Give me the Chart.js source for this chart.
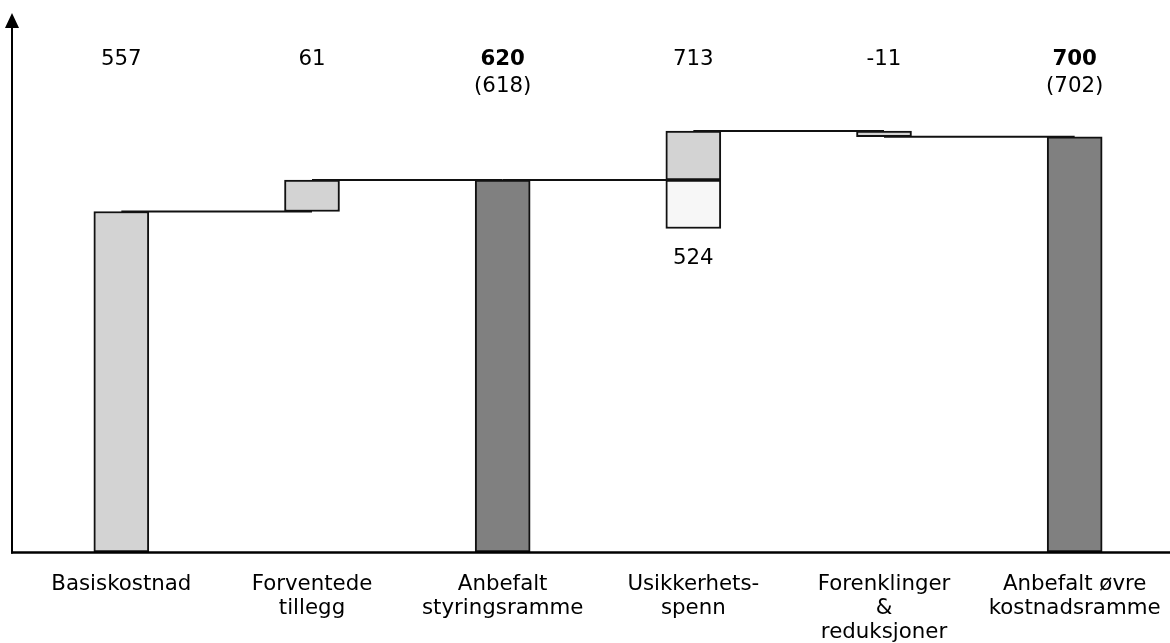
<!DOCTYPE html>
<html>
<head>
<meta charset="utf-8">
<script src="https://cdn.jsdelivr.net/npm/chart.js@4.4.1/dist/chart.umd.min.js"></script>
<style>
  html, body { margin: 0; padding: 0; background: #ffffff; }
  #wrap { width: 1170px; height: 643px; position: relative; }
</style>
</head>
<body>
<div id="wrap"><canvas id="chart"></canvas></div>
<script>
// Categories along the x axis (multi-line labels)
const categories = [
  ['Basiskostnad'],
  ['Forventede', 'tillegg'],
  ['Anbefalt', 'styringsramme'],
  ['Usikkerhets-', 'spenn'],
  ['Forenklinger', '&', 'reduksjoner'],
  ['Anbefalt øvre', 'kostnadsramme']
];

// Value labels printed above each column
const valueLabels = ['557', '61', '620', '713', '-11', '700'];
const subLabels = ['', '', '(618)', '', '', '(702)'];
const boldLabels = [false, false, true, false, false, true];

// Cost figures (MNOK)
const baseCost = 557;
const expectedAdditions = 61;
const controlFrame = 618;
const uncertaintyHigh = 713;
const uncertaintyLow = 524;
const simplifications = -11;
const upperFrame = 702;

// Visible value range of the cost axis
const yRange = [-103, 967];

// Running level after each column, used for the step connectors
const connectorLevels = [baseCost, controlFrame, controlFrame, uncertaintyHigh, upperFrame];

const FONT = '"DejaVu Sans", Verdana, sans-serif';
const LIGHT = '#d3d3d3';
const DARK = '#808080';
const PALE = '#f7f7f7';
const EDGE = '#111111';

const barStyle = {
  borderColor: EDGE,
  borderWidth: 2,
  borderSkipped: false,
  barThickness: 55,
  grouped: false
};

const waterfallDecor = {
  id: 'waterfallDecor',
  beforeDatasetsDraw(chart) {
    const { ctx, scales: { x, y } } = chart;
    ctx.save();
    ctx.strokeStyle = EDGE;
    ctx.lineWidth = 2;
    connectorLevels.forEach((v, i) => {
      const py = y.getPixelForValue(v);
      ctx.beginPath();
      ctx.moveTo(x.getPixelForValue(i), py);
      ctx.lineTo(x.getPixelForValue(i + 1), py);
      ctx.stroke();
    });
    ctx.restore();
  },
  afterDraw(chart) {
    const { ctx, chartArea, scales: { x, y } } = chart;
    ctx.save();
    // axes with arrow on the vertical one
    ctx.strokeStyle = '#000';
    ctx.fillStyle = '#000';
    ctx.lineWidth = 2.5;
    ctx.beginPath();
    ctx.moveTo(11, chartArea.bottom + 0.5);
    ctx.lineTo(1170, chartArea.bottom + 0.5);
    ctx.stroke();
    ctx.lineWidth = 2;
    ctx.beginPath();
    ctx.moveTo(12, chartArea.bottom + 1.5);
    ctx.lineTo(12, 26);
    ctx.stroke();
    ctx.beginPath();
    ctx.moveTo(12, 13);
    ctx.lineTo(5, 28);
    ctx.lineTo(19, 28);
    ctx.closePath();
    ctx.fill();

    // value labels
    ctx.textAlign = 'center';
    ctx.textBaseline = 'alphabetic';
    valueLabels.forEach((t, i) => {
      const px = x.getPixelForValue(i);
      ctx.font = (boldLabels[i] ? 'bold ' : '') + '21.33px ' + FONT;
      ctx.fillText(t, px, 65);
      if (subLabels[i]) {
        ctx.font = '21.33px ' + FONT;
        ctx.fillText(subLabels[i], px, 92);
      }
    });
    ctx.font = '21.33px ' + FONT;
    ctx.fillText(String(uncertaintyLow), x.getPixelForValue(3), y.getPixelForValue(uncertaintyLow) + 35);
    ctx.restore();
  }
};

new Chart(document.getElementById('chart'), {
  type: 'bar',
  data: {
    labels: categories,
    datasets: [
      {
        label: 'Basis',
        data: [baseCost, null, null, null, null, null],
        base: yRange[0],
        backgroundColor: LIGHT,
        ...barStyle
      },
      {
        label: 'Rammer',
        data: [null, null, controlFrame, null, null, upperFrame],
        base: yRange[0],
        backgroundColor: DARK,
        ...barStyle
      },
      {
        label: 'Endringer',
        data: [
          null,
          [baseCost, baseCost + expectedAdditions],
          null,
          [controlFrame, uncertaintyHigh],
          [uncertaintyHigh + simplifications, uncertaintyHigh],
          null
        ],
        backgroundColor: LIGHT,
        ...barStyle
      },
      {
        label: 'Nedre spenn',
        data: [null, null, null, [uncertaintyLow, controlFrame], null, null],
        backgroundColor: PALE,
        ...barStyle
      }
    ]
  },
  options: {
    responsive: true,
    maintainAspectRatio: false,
    animation: false,
    layout: { padding: { left: 26, right: 0, top: 0, bottom: 0 } },
    plugins: {
      legend: { display: false },
      tooltip: { enabled: false }
    },
    scales: {
      x: {
        offset: true,
        grid: { display: false, drawTicks: false },
        border: { display: false },
        ticks: {
          color: '#000',
          padding: 20,
          autoSkip: false,
          maxRotation: 0,
          minRotation: 0,
          font: { family: FONT, size: 21.33, lineHeight: 1.125 }
        },
        afterFit(scale) {
          scale.height = 91;
          scale.paddingLeft = 0;
          scale.paddingRight = 0;
        }
      },
      y: {
        display: false,
        min: yRange[0],
        max: yRange[1]
      }
    }
  },
  plugins: [waterfallDecor]
});
</script>
</body>
</html>
